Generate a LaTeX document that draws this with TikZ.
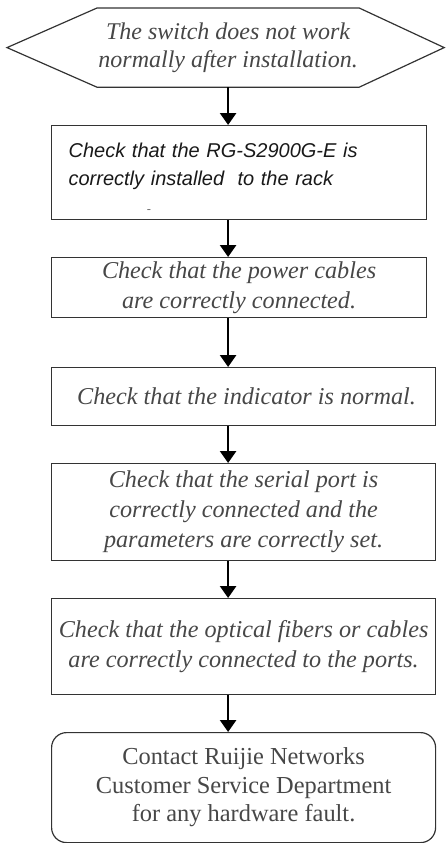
\documentclass[tikz,border=0pt]{standalone}
\usepackage{fontspec}
\setmainfont{Liberation Serif}
\newfontfamily\arialfont{Liberation Sans}
\usetikzlibrary{arrows.meta}

\begin{document}
\begin{tikzpicture}[x=1pt, y=-1pt, line join=miter,
	box/.style = {draw=black!80, line width=1.2pt, anchor=north west, align=center, inner sep=0pt, text=black!72, font=\fontsize{24.2}{30}\selectfont\itshape},
	flow/.style = {-{Triangle[width=16pt,length=12pt]}, line width=2.6pt}]
			\useasboundingbox (0,0) rectangle (445,843);
			\node[box, draw=none, minimum width=261pt, minimum height=78pt, font=\fontsize{24}{28}\selectfont\itshape] (hex) at (97,8) {The switch does not work\\normally after installation.};
			\draw[draw=black!80, line width=1.2pt] (hex.north west) -- (hex.north east) -- ([xshift=85pt]hex.east) -- (hex.south east) -- (hex.south west) -- ([xshift=-90pt]hex.west) -- cycle;
			\node[box, minimum width=375pt, minimum height=94pt, text width=341pt, align=left, text=black!90, font=\fontsize{20}{28}\selectfont\arialfont\itshape] (rack) at (51,125) {\rule{0pt}{26pt}Check that the RG-S2900G-E is\\correctly installed~ to the rack\\\hspace*{78pt}{\color{black!55}\fontsize{13}{28}\selectfont-}};
			\node[box, minimum width=375pt, minimum height=60pt] (power) at (51,257) {Check that the power cables\\are correctly connected.};
			\node[box, minimum width=384pt, minimum height=58pt] (led) at (51,367) {\hspace*{6pt}Check that the indicator is normal.};
			\node[box, minimum width=384pt, minimum height=97pt] (serial) at (51,463) {Check that the serial port is\\correctly connected and the\\parameters are correctly set.};
			\node[box, minimum width=384pt, minimum height=96pt] (ports) at (51,598) {Check that the optical fibers or cables\\are correctly connected to the ports.};
			\node[box, rounded corners=15pt, minimum width=384pt, minimum height=110pt, font=\fontsize{24.4}{28.5}\selectfont] (contact) at (51,732) {Contact Ruijie Networks\\Customer Service Department\\for any hardware fault.};
			\path[flow]
				(hex.south) edge (hex.south |- rack.north)
				(hex.south |- rack.south) edge (hex.south |- power.north)
				(hex.south |- power.south) edge (hex.south |- led.north)
				(hex.south |- led.south) edge (hex.south |- serial.north)
				(hex.south |- serial.south) edge (hex.south |- ports.north)
				(hex.south |- ports.south) edge (hex.south |- contact.north);
		\end{tikzpicture}
\end{document}
